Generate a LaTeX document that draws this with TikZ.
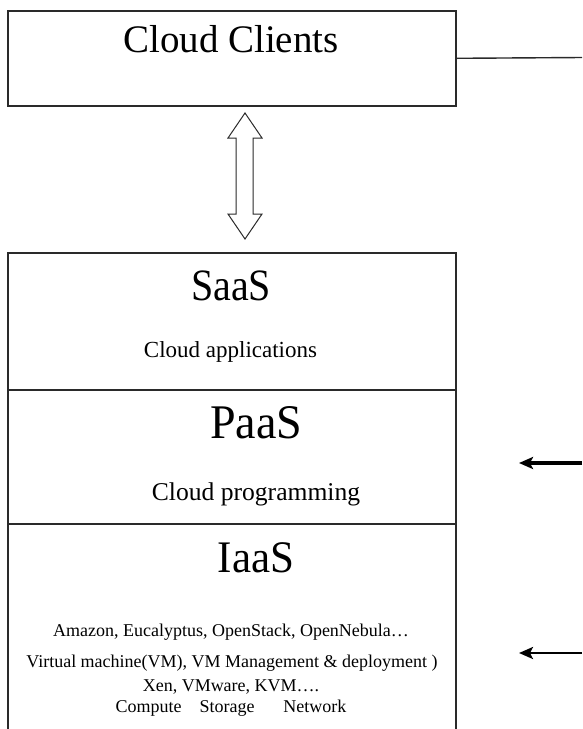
\documentclass[tikz,border=0pt]{standalone}
\usepackage{fontspec}
\setmainfont{Liberation Serif}
\usetikzlibrary{arrows.meta}
\definecolor{edge}{HTML}{2A2A2A}
\tikzset{
  box/.style={draw=edge, line width=1.6pt, minimum width=448pt, inner sep=0pt, anchor=north west},
  big/.style={anchor=base, inner sep=0pt},
  mid/.style={anchor=base, inner sep=0pt},
  small/.style={font=\fontsize{18}{18}\selectfont, anchor=base, inner sep=0pt},
  feed/.style={line width=3.2pt, -{Stealth[length=14pt,width=12pt,inset=3pt]}}
}
\begin{document}
\begin{tikzpicture}[x=1pt,y=-1pt]
\clip (0,0) rectangle (582,729);
\fill[white] (0,0) rectangle (582,729);
% boxes
\node[box, minimum height=95pt] (cc) at (7,10) {};
\node[box, minimum height=137pt] (saas) at (7,252) {};
\node[box, minimum height=134pt] (paas) at (7,389) {};
\node[box, minimum height=240pt] (iaas) at (7,523) {};
% texts
\node[font=\fontsize{39}{39}\selectfont, anchor=base, inner sep=0pt] (cct) at (231,52) {Cloud Clients};
\node[big, font=\fontsize{40}{40}\selectfont] (st) at (231,300) {\scalebox{1}[1.12]{SaaS}};
\node[mid, font=\fontsize{23}{23}\selectfont] (sd) at (230.5,357) {Cloud applications};
\node[big, font=\fontsize{46}{46}\selectfont] (pt) at (256,438) {\scalebox{1}[1.05]{PaaS}};
\node[mid, font=\fontsize{25.6}{25.6}\selectfont] (pd) at (256,500) {Cloud programming};
\node[big, font=\fontsize{43}{43}\selectfont] (it) at (256,572) {\scalebox{1}[1.05]{IaaS}};
\node[small] (i1) at (231,636) {Amazon, Eucalyptus, OpenStack, OpenNebula…};
\node[small] (i2) at (232,667) {Virtual machine(VM), VM Management \& deployment )};
\node[small] (i3) at (231,691) {Xen, VMware, KVM….};
\node[small] (i4) at (231,712) {Compute\hspace{1em}Storage\hspace{1.6em}Network};
% connector to the right of Cloud Clients
\coordinate (ccr) at (582,57.5);
\draw[edge, line width=1.4pt] (cc.east) -- (ccr);
% incoming arrows
\coordinate (pr) at (582,463);
\coordinate (pl) at (519,463);
\coordinate (ir) at (582,653);
\coordinate (il) at (519,653);
\draw[feed] (pr) -- (pl);
\draw[feed, line width=2.4pt] (ir) -- (il);
% double arrow
\draw[edge, line width=1pt, fill=white]
  (245,113) -- (262,138) -- (253,138) -- (253,214) -- (262,214) -- (245,239)
  -- (228,214) -- (236,214) -- (236,138) -- (228,138) -- cycle;
\end{tikzpicture}
\end{document}
